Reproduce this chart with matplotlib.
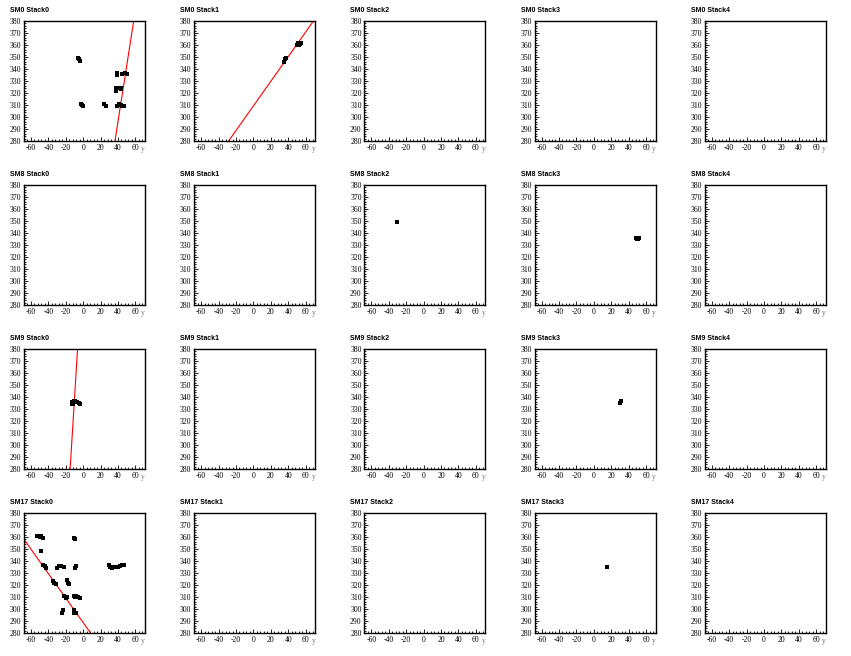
import matplotlib
matplotlib.use("Agg")
import matplotlib.pyplot as plt
from matplotlib.ticker import MultipleLocator

plt.rcParams["axes.unicode_minus"] = False

modules = ["SM0", "SM8", "SM9", "SM17"]
stacks = ["Stack0", "Stack1", "Stack2", "Stack3", "Stack4"]

# hit positions (y, z) per module/stack
sm0_s0_y = [-6, -5, -4, -3, -1, 0, 24, 26, 39, 39, 45, 48, 50, 38, 38, 40, 43, 44, 39, 41, 43, 45, 47]
sm0_s0_z = [349, 348, 347, 311, 310, 309.5, 311, 309.5, 337, 335, 336, 337, 335.5, 324, 322, 324, 324, 323, 309, 311, 310, 309, 309]
sm0_s1_y = [35, 36, 37, 50, 51, 53, 55, 52]
sm0_s1_z = [346, 348, 349, 360, 362, 361, 362, 360]
sm8_s2_y = [-30]
sm8_s2_z = [349]
sm8_s3_y = [49, 51, 52, 50]
sm8_s3_z = [336, 335, 336, 335]
sm9_s0_y = [-13, -12, -11, -9, -7, -5, -4, -13]
sm9_s0_z = [336, 334, 337, 337, 336, 335, 334, 334]
sm9_s3_y = [31, 30]
sm9_s3_z = [337, 335]
sm17_s0_y = [-52, -50, -48, -46, -53, -48, -46, -44, -43, -30, -28, -25, -22, -11, -9, -9, -8,
             -35, -33, -31, -19, -17, -16, -22, -20, -19, -11, -9, -6, -4, -8, -24, -23,
             -11, -10, -8, 30, 31, 33, 35, 40, 42, 45, 47]
sm17_s0_z = [361, 360, 361, 359, 361, 348, 337, 336, 334, 334, 336, 336, 335, 359, 358, 334, 336,
             323, 322, 321, 324, 322, 321, 311, 309, 310, 311, 310, 310, 309, 311, 297, 299,
             299, 297, 297, 337, 335, 334, 335, 335, 336, 337, 337]
sm17_s3_y = [15]
sm17_s3_z = [335]

# fitted tracks: (y at z=280, y at z=380)
sm0_s0_fit = [36.5, 58]
sm0_s1_fit = [-28.5, 69]
sm9_s0_fit = [-15, -6.5]
sm17_s0_fit_y = [-68, 8.5]
sm17_s0_fit_z = [358, 280]

hits = {
    ("SM0", "Stack0"): (sm0_s0_y, sm0_s0_z),
    ("SM0", "Stack1"): (sm0_s1_y, sm0_s1_z),
    ("SM8", "Stack2"): (sm8_s2_y, sm8_s2_z),
    ("SM8", "Stack3"): (sm8_s3_y, sm8_s3_z),
    ("SM9", "Stack0"): (sm9_s0_y, sm9_s0_z),
    ("SM9", "Stack3"): (sm9_s3_y, sm9_s3_z),
    ("SM17", "Stack0"): (sm17_s0_y, sm17_s0_z),
    ("SM17", "Stack3"): (sm17_s3_y, sm17_s3_z),
}
tracks = {
    ("SM0", "Stack0"): (sm0_s0_fit, [280, 380]),
    ("SM0", "Stack1"): (sm0_s1_fit, [280, 380]),
    ("SM9", "Stack0"): (sm9_s0_fit, [280, 380]),
    ("SM17", "Stack0"): (sm17_s0_fit_y, sm17_s0_fit_z),
}

W, H = 851, 656
fig = plt.figure(figsize=(W / 100, H / 100), dpi=100)
colw = W / 5
rowh = H / 4

for r, sm in enumerate(modules):
    for c, st in enumerate(stacks):
        x0 = c * colw
        y0 = r * rowh
        ax = fig.add_axes([(x0 + 24) / W, 1 - (y0 + 141) / H, 121 / W, 120 / H])
        ax.set_xlim(-68, 71)
        ax.set_ylim(280, 380)
        ax.xaxis.set_major_locator(MultipleLocator(20))
        ax.xaxis.set_minor_locator(MultipleLocator(4))
        ax.yaxis.set_major_locator(MultipleLocator(10))
        ax.yaxis.set_minor_locator(MultipleLocator(2))
        ax.tick_params(which="both", direction="in", top=False, right=False,
                       width=0.6, labelsize=5.5, pad=2)
        ax.tick_params(which="major", length=3.2)
        ax.tick_params(which="minor", length=1.6)
        for lab in ax.get_xticklabels() + ax.get_yticklabels():
            lab.set_family("Liberation Serif")
        for s in ax.spines.values():
            s.set_linewidth(1.0)
        # axis title sits just under the right end of the x axis
        ax.text(0.985, -0.065, "y", transform=ax.transAxes, fontsize=5.5,
                color="#777777", family="Liberation Serif", ha="center", va="center")
        fig.text((x0 + 10) / W, 1 - (y0 + 10) / H, sm + " " + st,
                 fontsize=5, fontweight="bold", family="Liberation Sans",
                 va="center", ha="left")
        if (sm, st) in tracks:
            ty, tz = tracks[(sm, st)]
            ax.plot(ty, tz, color="red", lw=0.8)
        if (sm, st) in hits:
            hy, hz = hits[(sm, st)]
            ax.plot(hy, hz, ls="none", marker="s", ms=2.6, color="black", mew=0)

fig.savefig("out.png", dpi=100)
